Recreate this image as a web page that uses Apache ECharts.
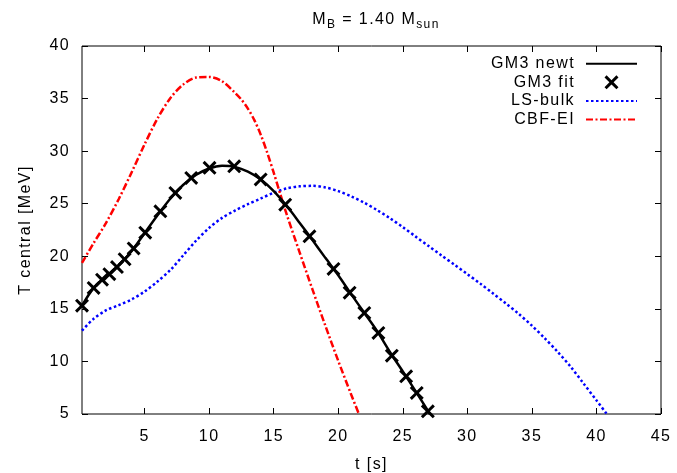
<!DOCTYPE html>
<html><head><meta charset="utf-8">
<script src="https://cdn.jsdelivr.net/npm/echarts@6/dist/echarts.min.js"></script>
<style>html,body{margin:0;padding:0;background:#fff}#c{width:677px;height:473px}</style>
</head><body><div id="c"></div>
<script>
// gnuplot-like slightly spaced lettering
(function () {
  const P = CanvasRenderingContext2D.prototype;
  const f = P.fillText, m = P.measureText;
  P.fillText = function () { try { this.letterSpacing = '1.4px'; } catch (e) {} return f.apply(this, arguments); };
  P.measureText = function () { try { this.letterSpacing = '1.4px'; } catch (e) {} return m.apply(this, arguments); };
})();

const xTicks = [5, 10, 15, 20, 25, 30, 35, 40, 45];
const yTicks = [5, 10, 15, 20, 25, 30, 35, 40];

const newtT = [0.15, 1, 2, 3, 4, 5, 6, 7, 8, 9, 10, 11, 12, 13, 14, 15, 16, 17, 18, 19, 20, 21, 22, 23, 24, 25, 26, 27.1];
const newtV = [15.3, 16.9, 18.05, 19.15, 20.5, 22.2, 23.9, 25.5, 26.8, 27.75, 28.35, 28.6, 28.5, 28.05, 27.3, 26.2, 24.8, 23.2, 21.55, 19.85, 18.2, 16.4, 14.65, 12.9, 10.9, 9.05, 7.15, 5.0];

const fitT = [0.15, 1.05, 1.70, 2.27, 2.86, 3.45, 4.15, 5.05, 6.22, 7.38, 8.61, 10.03, 11.94, 13.99, 15.89, 17.77, 19.63, 20.88, 22.02, 23.11, 24.15, 25.26, 26.08, 26.94];
const fitV = [15.30, 16.99, 17.78, 18.30, 18.97, 19.72, 20.75, 22.25, 24.28, 26.03, 27.45, 28.41, 28.56, 27.31, 24.91, 21.90, 18.80, 16.54, 14.61, 12.71, 10.55, 8.58, 7.00, 5.25];

const lsT = [0.15, 1, 2, 3, 4, 5, 6, 7, 8, 9, 10, 11, 12, 13, 14, 15, 16, 17, 18, 19, 20, 21, 22, 23, 24, 25, 26, 27, 28, 29, 30, 31, 32, 33, 34, 35, 36, 37, 38, 39, 40, 40.8];
const lsV = [12.93, 14.0, 14.85, 15.35, 15.9, 16.65, 17.6, 18.7, 20.1, 21.5, 22.7, 23.65, 24.35, 24.95, 25.5, 26.05, 26.45, 26.65, 26.7, 26.55, 26.2, 25.7, 25.1, 24.4, 23.62, 22.77, 21.87, 20.97, 20.07, 19.2, 18.3, 17.4, 16.45, 15.5, 14.5, 13.4, 12.2, 10.9, 9.5, 7.9, 6.3, 5.0];

const cbfT = [0.15, 1, 2, 3, 4, 5, 6, 7, 8, 9, 10, 11, 12, 12.5, 13, 13.5, 14, 14.5, 15, 15.5, 16, 17, 18, 19, 20, 21, 21.6];
const cbfV = [19.37, 21.15, 23.15, 25.45, 28.0, 30.65, 33.1, 35.05, 36.35, 37.0, 37.05, 36.65, 35.55, 34.9, 34.05, 32.95, 31.55, 29.85, 27.95, 25.95, 24.0, 20.4, 16.85, 13.4, 10.05, 6.85, 5.0];

const names = ['GM3 newt', 'GM3 fit', 'LS-bulk', 'CBF-EI'];

const zip = (a, b) => a.map((v, i) => [v, b[i]]);
const FONT = "'Liberation Sans', Arial, Helvetica, sans-serif";
const xMark = 'path://M0,1.5 L1.5,0 L5,3.5 L8.5,0 L10,1.5 L6.5,5 L10,8.5 L8.5,10 L5,6.5 L1.5,10 L0,8.5 L3.5,5 Z';

const chart = echarts.init(document.getElementById('c'), null, {renderer: 'canvas'});
const axisCommon = {axisLine: {show: false}, splitLine: {show: false}};
chart.setOption({
  animation: false,
  backgroundColor: '#fff',
  textStyle: {fontFamily: FONT, color: '#000'},
  title: {
    text: '{n|M}{s|B}{n| = 1.40 M}{s|sun}',
    left: 371, top: 5, textAlign: 'center',
    textStyle: {
      fontWeight: 'normal',
      rich: {
        n: {fontSize: 16, fontFamily: FONT, color: '#000', fontWeight: 'normal', lineHeight: 20},
        s: {fontSize: 12, fontFamily: FONT, color: '#000', fontWeight: 'normal', lineHeight: 20, padding: [9, 0, 0, 0]}
      }
    }
  },
  grid: {left: 82, right: 16, top: 46, bottom: 59, outerBoundsMode: 'none', containLabel: false,
         show: true, borderColor: '#000', borderWidth: 1, backgroundColor: 'transparent'},
  legend: {
    orient: 'vertical', right: 39, top: 55, align: 'right', padding: 0,
    itemWidth: 51, itemHeight: 14, itemGap: 1.2,
    data: [
      {name: names[0], itemStyle: {opacity: 0}},
      {name: names[1]},
      {name: names[2], itemStyle: {opacity: 0}},
      {name: names[3], itemStyle: {opacity: 0}}
    ],
    textStyle: {fontSize: 16, fontFamily: FONT, color: '#000', padding: [0, 6, 0, 0]}
  },
  xAxis: [{
    type: 'value', min: 0.15, max: 45, position: 'bottom',
    ...axisCommon,
    name: 't [s]', nameLocation: 'middle', nameGap: 42,
    nameTextStyle: {fontSize: 16, fontFamily: FONT, color: '#000'},
    axisTick: {show: true, inside: true, length: 6, customValues: xTicks, lineStyle: {color: '#000'}},
    axisLabel: {show: true, margin: 14, fontSize: 16, fontFamily: FONT, color: '#000', customValues: xTicks}
  }, {
    type: 'value', min: 0.15, max: 45, position: 'top',
    ...axisCommon,
    axisTick: {show: true, inside: true, length: 6, customValues: xTicks, lineStyle: {color: '#000'}},
    axisLabel: {show: false}
  }],
  yAxis: [{
    type: 'value', min: 5, max: 40, interval: 5, position: 'left',
    ...axisCommon,
    name: 'T central [MeV]', nameLocation: 'middle', nameGap: 48, nameRotate: 90,
    nameTextStyle: {fontSize: 16, fontFamily: FONT, color: '#000'},
    axisTick: {show: true, inside: true, length: 6, lineStyle: {color: '#000'}},
    axisLabel: {show: true, margin: 12, fontSize: 16, fontFamily: FONT, color: '#000'}
  }, {
    type: 'value', min: 5, max: 40, interval: 5, position: 'right',
    ...axisCommon,
    axisTick: {show: true, inside: true, length: 6, lineStyle: {color: '#000'}},
    axisLabel: {show: false}
  }],
  series: [
    {
      name: names[0], type: 'line', data: zip(newtT, newtV), smooth: 0.3, symbol: 'none',
      lineStyle: {color: '#000', width: 2.5}, itemStyle: {color: '#000'}, z: 3
    },
    {
      name: names[1], type: 'scatter', data: zip(fitT, fitV), symbol: xMark, symbolSize: 14,
      symbolKeepAspect: true, itemStyle: {color: '#000', opacity: 1}, z: 4
    },
    {
      name: names[2], type: 'line', data: zip(lsT, lsV), smooth: 0.3, symbol: 'none',
      lineStyle: {color: '#0000ff', width: 2.5, type: [2.5, 2.5]}, itemStyle: {color: '#0000ff'}, z: 2
    },
    {
      name: names[3], type: 'line', data: zip(cbfT, cbfV), smooth: 0.3, symbol: 'none',
      lineStyle: {color: '#ff0000', width: 2.5, type: [7, 2.5, 2, 2.5]}, itemStyle: {color: '#ff0000'}, z: 2
    }
  ]
});
</script>
</body></html>
